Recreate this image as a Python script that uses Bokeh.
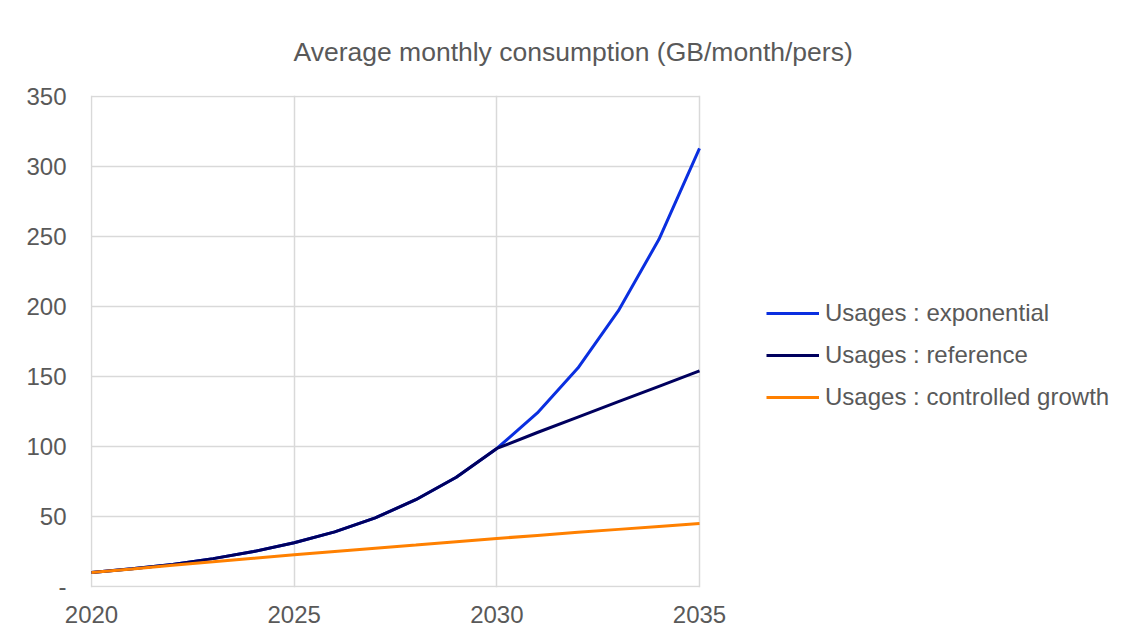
from bokeh.plotting import figure
from bokeh.models import Legend, LegendItem, FixedTicker, Range1d, Title
from bokeh.embed import file_html
from bokeh.resources import INLINE

years = list(range(2020, 2036))
exponential = [10, 12.6, 15.8, 19.9, 25, 31.2, 39, 49, 62, 78, 98.6, 124, 156, 197, 248, 313]
reference = [10, 12.6, 15.8, 19.9, 25, 31.2, 39, 49, 62, 78, 98.6, 110, 121, 132, 143, 154]
controlled = [10, 12.5, 15.2, 17.6, 20.1, 22.6, 25, 27.3, 29.6, 32, 34.3, 36.5, 38.7, 40.8, 42.9, 45]
x_ticks = [2020, 2025, 2030, 2035]
y_ticks = [0, 50, 100, 150, 200, 250, 300, 350]
y_labels = {0: "-", 50: "50", 100: "100", 150: "150", 200: "200", 250: "250", 300: "300", 350: "350"}
title_text = "Average monthly consumption (GB/month/pers)"
names = ["Usages : exponential", "Usages : reference", "Usages : controlled growth"]
colors = ["#0a2fe0", "#00005e", "#ff8000"]

FONT = "Liberation Sans"
GRAY = "#595959"
GRID = "#d9d9d9"

# frame spans to the right edge so the legend can sit inside it
x0, x1 = x_ticks[0], x_ticks[-1]
px_per_year = 608 / (x1 - x0)
x_start = x0 - 1 / px_per_year
x_end = x0 + (1123 - 91) / px_per_year

p = figure(width=1123, height=628, output_backend="svg", toolbar_location=None,
           x_range=Range1d(x_start, x_end), y_range=Range1d(-0.72, 350.72),
           min_border_left=90, min_border_right=0, min_border_top=95, min_border_bottom=41)
p.outline_line_color = None
p.background_fill_color = "white"
p.border_fill_color = "white"

for ax in (p.xaxis[0], p.yaxis[0]):
    ax.axis_line_color = None
    ax.major_tick_line_color = None
    ax.minor_tick_line_color = None
    ax.major_label_text_font = FONT
    ax.major_label_text_font_size = "24px"
    ax.major_label_text_color = GRAY
p.xaxis[0].ticker = FixedTicker(ticks=x_ticks)
p.yaxis[0].ticker = FixedTicker(ticks=y_ticks)
p.yaxis[0].major_label_overrides = y_labels
p.yaxis[0].major_label_standoff = 18
p.xaxis[0].major_label_standoff = 12

p.xgrid[0].ticker = FixedTicker(ticks=x_ticks)
p.xgrid.grid_line_color = GRID
p.xgrid.grid_line_width = 1.5
p.ygrid.visible = False
# horizontal grid limited to the data extent
p.segment(x0=[x0] * len(y_ticks), x1=[x1] * len(y_ticks), y0=y_ticks, y1=y_ticks,
          line_color=GRID, line_width=1.5)

series = [exponential, reference, controlled]
items = []
for name, vals, col in zip(names, series, colors):
    r = p.line(years, vals, line_color=col, line_width=3)
    items.append(LegendItem(label=name, renderers=[r]))

legend = Legend(items=items, location=(676, 175), orientation="vertical",
                label_text_font=FONT, label_text_font_size="24px", label_text_color=GRAY,
                glyph_width=53, glyph_height=30, label_height=30, label_standoff=6,
                spacing=12, padding=0, margin=0, border_line_color=None,
                background_fill_alpha=0)
p.add_layout(legend, "center")

title = Title(text=title_text, align="left", offset=203, standoff=58,
              text_font=FONT, text_font_size="26.5px", text_color=GRAY,
              text_font_style="normal")
p.add_layout(title, "above")

open("out.html", "w").write(file_html(p, INLINE))
